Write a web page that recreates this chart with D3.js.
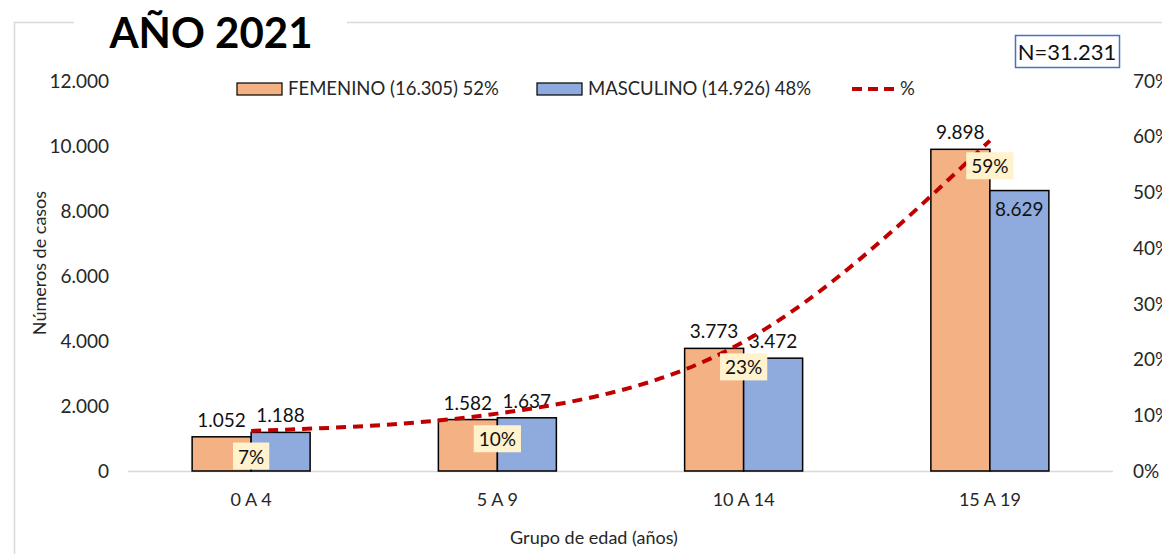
<!DOCTYPE html>
<html>
<head>
<meta charset="utf-8">
<script src="https://cdn.jsdelivr.net/npm/d3@7"></script>
<style>
  body { margin: 0; background: #fff; }
  svg { font-family: Lato, "Open Sans", sans-serif; }
</style>
</head>
<body>
<div id="root"></div>
<script>
const groups = ["0 A 4", "5 A 9", "10 A 14", "15 A 19"];
const femenino = [1052, 1582, 3773, 9898];
const masculino = [1188, 1637, 3472, 8629];
const pct = [7.2, 10.3, 23.2, 59.3];
const pctLabels = ["7%", "10%", "23%", "59%"];
const leftTicks = [0, 2000, 4000, 6000, 8000, 10000, 12000];
const rightTicks = [0, 10, 20, 30, 40, 50, 60, 70];

const W = 1162, H = 554;
const fmt = d3.format(",");
const dot = v => fmt(v).replace(/,/g, ".");

const svg = d3.select("#root").append("svg")
  .attr("width", W).attr("height", H);

// chart frame
svg.append("path")
  .attr("d", "M14.5,554 V22.5 H1162")
  .attr("fill", "none").attr("stroke", "#d9d9d9").attr("stroke-width", 1.5);

const x = d3.scaleBand().domain(groups).range([128, 1113]);
const y = d3.scaleLinear().domain([0, 12000]).range([471, 81]);
const y2 = d3.scaleLinear().domain([0, 70]).range([471, 81]);
const barW = 59;

// left axis labels
svg.append("g").selectAll("text").data(leftTicks).enter().append("text")
  .attr("x", 109).attr("y", d => y(d)).attr("dy", "0.35em")
  .attr("text-anchor", "end").attr("font-size", 19).attr("fill", "#262626")
  .text(d => dot(d));

// right axis labels
svg.append("g").selectAll("text").data(rightTicks).enter().append("text")
  .attr("x", 1133).attr("y", d => y2(d)).attr("dy", "0.35em")
  .attr("font-size", 19).attr("fill", "#262626")
  .text(d => d + "%");

// baseline
svg.append("line")
  .attr("x1", 128).attr("x2", 1113).attr("y1", y(0) + 0.5).attr("y2", y(0) + 0.5)
  .attr("stroke", "#d9d9d9").attr("stroke-width", 1.5);

// bars
const g = svg.append("g");
groups.forEach((c, i) => {
  const cx = x(c) + x.bandwidth() / 2;
  g.append("rect")
    .attr("x", cx - barW).attr("y", y(femenino[i]))
    .attr("width", barW).attr("height", y(0) - y(femenino[i]))
    .attr("fill", "#F4B183").attr("stroke", "#000").attr("stroke-width", 1.5);
  g.append("rect")
    .attr("x", cx).attr("y", y(masculino[i]))
    .attr("width", barW).attr("height", y(0) - y(masculino[i]))
    .attr("fill", "#8FAADC").attr("stroke", "#000").attr("stroke-width", 1.5);

  g.append("text")
    .attr("x", cx - barW / 2).attr("y", y(femenino[i]) - 10)
    .attr("text-anchor", "middle").attr("font-size", 19).attr("fill", "#111")
    .text(dot(femenino[i]));
  // last male label sits inside the bar
  const inside = i === 3;
  g.append("text")
    .attr("x", cx + barW / 2)
    .attr("y", inside ? y(masculino[i]) + 25 : y(masculino[i]) - 10)
    .attr("text-anchor", "middle").attr("font-size", 19).attr("fill", "#111")
    .text(dot(masculino[i]));
});

// percentage line
const line = d3.line()
  .x((d, i) => x(groups[i]) + x.bandwidth() / 2)
  .y(d => y2(d))
  .curve(d3.curveMonotoneX);

svg.append("path")
  .datum(pct)
  .attr("d", line)
  .attr("fill", "none").attr("stroke", "#C00000")
  .attr("stroke-width", 4).attr("stroke-dasharray", "10,7");

// percentage labels
const pl = svg.append("g");
pct.forEach((p, i) => {
  const cx = x(groups[i]) + x.bandwidth() / 2;
  const cy = y2(p) + 26;
  const t = pl.append("text")
    .attr("x", cx).attr("y", cy).attr("dy", "0.35em")
    .attr("text-anchor", "middle").attr("font-size", 19).attr("fill", "#111")
    .text(pctLabels[i]);
  const bb = t.node().getBBox();
  pl.insert("rect", "text")
    .attr("x", bb.x - 5).attr("y", bb.y - 2)
    .attr("width", bb.width + 10).attr("height", bb.height + 4)
    .attr("fill", "#FFF2CC");
});
pl.selectAll("text").raise();

// legend
const lg = svg.append("g");
lg.append("rect").attr("x", 237).attr("y", 83).attr("width", 45).attr("height", 12)
  .attr("fill", "#F4B183").attr("stroke", "#000").attr("stroke-width", 1.2);
lg.append("text").attr("x", 288).attr("y", 89).attr("dy", "0.35em")
  .attr("font-size", 18.5).attr("fill", "#262626").text("FEMENINO (16.305) 52%");
lg.append("rect").attr("x", 537).attr("y", 83).attr("width", 45).attr("height", 12)
  .attr("fill", "#8FAADC").attr("stroke", "#000").attr("stroke-width", 1.2);
lg.append("text").attr("x", 588).attr("y", 89).attr("dy", "0.35em")
  .attr("font-size", 18.5).attr("fill", "#262626").text("MASCULINO (14.926) 48%");
lg.append("line").attr("x1", 852).attr("x2", 895).attr("y1", 89).attr("y2", 89)
  .attr("stroke", "#C00000").attr("stroke-width", 4).attr("stroke-dasharray", "10,6");
lg.append("text").attr("x", 900).attr("y", 89).attr("dy", "0.35em")
  .attr("font-size", 18.5).attr("fill", "#262626").text("%");

// x axis labels
svg.append("g").selectAll("text").data(groups).enter().append("text")
  .attr("x", d => x(d) + x.bandwidth() / 2).attr("y", 506)
  .attr("text-anchor", "middle").attr("font-size", 18).attr("fill", "#262626")
  .text(d => d);

svg.append("text")
  .attr("x", 594).attr("y", 544)
  .attr("text-anchor", "middle").attr("font-size", 18).attr("fill", "#262626")
  .text("Grupo de edad (años)");

svg.append("text")
  .attr("transform", "translate(46,263) rotate(-90)")
  .attr("text-anchor", "middle").attr("font-size", 18).attr("fill", "#262626")
  .text("Números de casos");

// title
svg.append("rect").attr("x", 74).attr("y", 10).attr("width", 273).attr("height", 30).attr("fill", "#fff");
svg.append("text")
  .attr("x", 211).attr("y", 48)
  .attr("text-anchor", "middle").attr("font-size", 42).attr("font-weight", "bold").attr("fill", "#000")
  .text("AÑO 2021");

// N box
svg.append("rect").attr("x", 1015.5).attr("y", 35.5).attr("width", 104).attr("height", 32)
  .attr("fill", "#fff").attr("stroke", "#4472C4").attr("stroke-width", 1.5);
svg.append("text")
  .attr("x", 1067).attr("y", 52).attr("dy", "0.35em")
  .attr("text-anchor", "middle").attr("font-size", 22).attr("fill", "#111")
  .text("N=31.231");
</script>
</body>
</html>
